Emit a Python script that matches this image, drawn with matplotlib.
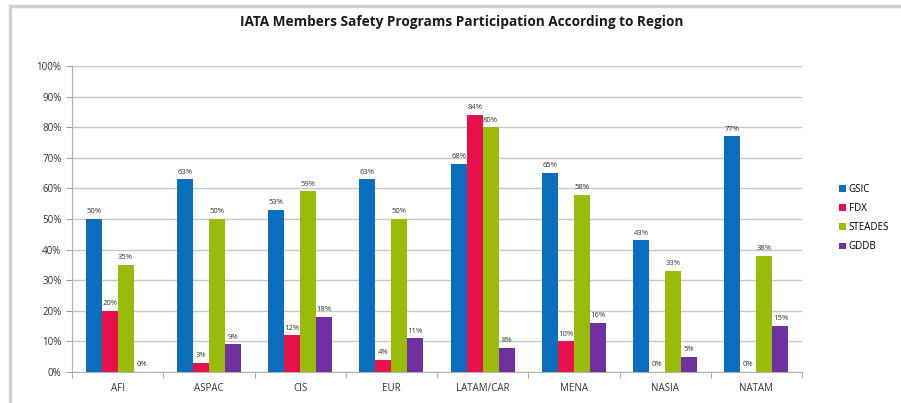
import matplotlib.pyplot as plt
import numpy as np
from matplotlib.patches import Rectangle
from matplotlib.ticker import PercentFormatter

regions = ["AFI", "ASPAC", "CIS", "EUR", "LATAM/CAR", "MENA", "NASIA", "NATAM"]
gsic = [50, 63, 53, 63, 68, 65, 43, 77]
fdx = [20, 3, 12, 4, 84, 10, 0, 0]
steades = [35, 50, 59, 50, 80, 58, 33, 38]
gddb = [0, 9, 18, 11, 8, 16, 5, 15]

series = [("GSIC", gsic, "#0A6EBD"),
          ("FDX", fdx, "#E8104A"),
          ("STEADES", steades, "#99BB0A"),
          ("GDDB", gddb, "#7030A0")]

plt.rcParams["font.family"] = ["Open Sans", "DejaVu Sans"]

fig = plt.figure(figsize=(9.01, 4.03), dpi=100)
# chart-area frame, cut off at the right and bottom like the screenshot
fig.patches.append(Rectangle((10 / 901, -0.1), 1.2, 1 - 6 / 403 + 0.1,
                             transform=fig.transFigure, fill=False,
                             edgecolor="#d0d0d0", linewidth=2.5))
ax = fig.add_axes([72 / 901, 31 / 403, 730 / 901, 306 / 403])

x = np.arange(len(regions))
w = 0.175
for i, (name, vals, color) in enumerate(series):
    pos = x + (i - 1.5) * w
    ax.bar(pos, vals, width=w, color=color, label=name, zorder=3)
    for px, v in zip(pos, vals):
        ax.text(px, v + 1.2, f"{v}%", ha="center", va="bottom",
                fontsize=5.5, color="#333333", zorder=4)

ax.set_xlim(-0.5, len(regions) - 0.5)
ax.set_ylim(0, 100)
ax.set_yticks(np.arange(0, 101, 10))
ax.yaxis.set_major_formatter(PercentFormatter(decimals=0))
ax.set_xticks(x)
ax.set_xticklabels(regions)
ax.set_xticks(np.arange(-0.5, len(regions)), minor=True)
ax.tick_params(axis="x", which="major", length=0, labelsize=7, pad=8, colors="#333333")
ax.tick_params(axis="x", which="minor", length=4, color="#a0a0a0")
ax.tick_params(axis="y", length=4, color="#a0a0a0", labelsize=7, colors="#333333")
ax.grid(axis="y", color="#c8c8c8", linewidth=1, zorder=0)
for s in ["top", "right"]:
    ax.spines[s].set_visible(False)
ax.spines["left"].set_color("#b0b0b0")
ax.spines["bottom"].set_color("#b0b0b0")

fig.text(462 / 901, 1 - 22 / 403, "IATA Members Safety Programs Participation According to Region",
         ha="center", va="center", fontsize=9.8, fontweight="bold", color="#1a1a1a")

ax.legend(loc="center left", bbox_to_anchor=((835 - 72) / 730, 0.503),
          frameon=False, fontsize=7, handlelength=0.7, handleheight=0.7,
          handletextpad=0.3, labelspacing=0.85, borderaxespad=0)

fig.savefig("out.png", dpi=100)
